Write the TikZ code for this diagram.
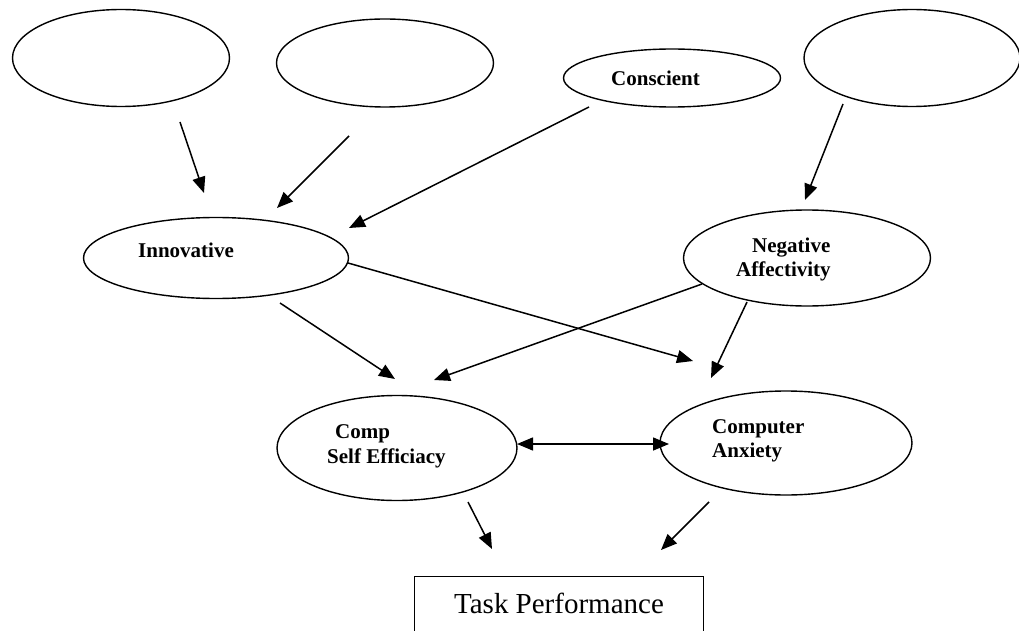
\documentclass[tikz,border=0pt]{standalone}
\usepackage{fontspec}
\setmainfont{Liberation Serif}
\usetikzlibrary{shapes.geometric,arrows.meta}
\tikzset{
  ell/.style={draw, ellipse, line width=1.4pt, inner sep=0pt},
  lab/.style={inner sep=0pt, anchor=base west, font=\fontsize{21}{23}\selectfont\bfseries},
  arr/.style={line width=1.5pt, -{Triangle[length=16pt,width=13pt]}},
  darr/.style={line width=1.5pt, {Triangle[length=16pt,width=13pt]}-{Triangle[length=16pt,width=13pt]}},
}
\begin{document}
\begin{tikzpicture}[x=1pt,y=-1pt]
\useasboundingbox (0,0) rectangle (1019,631);
\fill[white] (0,0) rectangle (1019,631);
\clip (0,0) rectangle (1019,631);
% ellipses
\node[ell, minimum width=217pt, minimum height=97pt] (e1) at (121,58) {};
\node[ell, minimum width=217pt, minimum height=88pt] (e2) at (385,63) {};
\node[ell, minimum width=217pt, minimum height=58pt] (cons) at (672,78) {};
\node[ell, minimum width=216pt, minimum height=97pt] (e4) at (912,58) {};
\node[ell, minimum width=265pt, minimum height=81pt] (inno) at (216,258) {};
\node[ell, minimum width=247pt, minimum height=96pt] (na) at (807,258) {};
\node[ell, minimum width=240pt, minimum height=105pt] (cse) at (397,448) {};
\node[ell, minimum width=252pt, minimum height=104pt] (ca) at (786,443) {};
\node[draw, line width=1.4pt, inner sep=0pt, minimum width=289pt, minimum height=70pt, anchor=north west] (tp) at (414,576) {};
% labels
\node[lab] (l1) at (138,257) {Innovative};
\node[lab] (l2) at (611,86) {Conscient};
\node[lab] (l3) at (752,252) {Negative};
\node[lab] (l4) at (736,276) {Affectivity};
\node[lab] (l5) at (335,438) {Comp};
\node[lab] (l6) at (327,463) {Self Efficiacy};
\node[lab] (l7) at (712,433) {Computer};
\node[lab] (l8) at (712,457) {Anxiety};
\node[inner sep=0pt, anchor=base, font=\fontsize{29}{32}\selectfont] (l9) at (559,613) {Task Performance};
% arrow endpoints
\coordinate (a1s) at (180,122); \coordinate (a1e) at (204,193);
\coordinate (a2s) at (349,136); \coordinate (a2e) at (277,208);
\coordinate (a3s) at (589,107); \coordinate (a3e) at (349,228);
\coordinate (a4s) at (843,104); \coordinate (a4e) at (805,200);
\coordinate (a5s) at (348,263); \coordinate (a5e) at (693,361);
\coordinate (a6s) at (280,303); \coordinate (a6e) at (395,379);
\coordinate (a7s) at (702,284); \coordinate (a7e) at (434,380);
\coordinate (a8s) at (747,302); \coordinate (a8e) at (711,378);
\coordinate (a9s) at (517,444); \coordinate (a9e) at (669,444);
\coordinate (a10s) at (468,502); \coordinate (a10e) at (492,549);
\coordinate (a11s) at (709,502); \coordinate (a11e) at (661,550);
\draw[arr] (a1s) -- (a1e);
\draw[arr] (a2s) -- (a2e);
\draw[arr] (a3s) -- (a3e);
\draw[arr] (a4s) -- (a4e);
\draw[arr] (a5s) -- (a5e);
\draw[arr] (a6s) -- (a6e);
\draw[arr] (a7s) -- (a7e);
\draw[arr] (a8s) -- (a8e);
\draw[darr] (a9s) -- (a9e);
\draw[arr] (a10s) -- (a10e);
\draw[arr] (a11s) -- (a11e);
\end{tikzpicture}
\end{document}
